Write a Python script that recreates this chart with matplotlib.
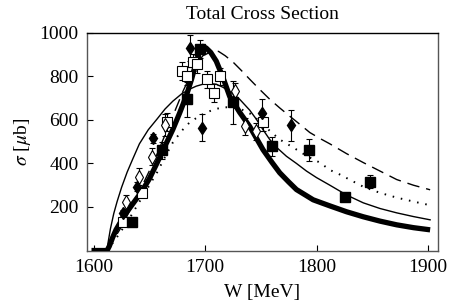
import matplotlib
matplotlib.use("Agg")
import matplotlib.pyplot as plt
import numpy as np

plt.rcParams['font.family'] = ['Liberation Serif', 'DejaVu Serif']
plt.rcParams['mathtext.fontset'] = 'stix'

# model curves (W in MeV, sigma in microbarn)
thick_w = [1598, 1612, 1614, 1617, 1620, 1624, 1628, 1633, 1638, 1643, 1650, 1657,
           1664, 1671, 1677, 1683, 1688, 1692, 1695, 1698, 1701, 1705, 1710, 1716,
           1722, 1731, 1740, 1752, 1760, 1767, 1775, 1782, 1790, 1797, 1805, 1812,
           1827, 1842, 1857, 1872, 1887, 1902]
thick_s = [0, 0, 20, 60, 95, 130, 165, 200, 235, 270, 330, 404,
           480, 556, 630, 709, 790, 866, 915, 938, 930, 910, 870, 795,
           709, 635, 570, 463, 405, 357, 315, 280, 255, 233, 218, 205,
           178, 155, 135, 118, 105, 95]

thin_w = [1612, 1613, 1615, 1618, 1621, 1625, 1630, 1635, 1641, 1649, 1657, 1664,
          1671, 1679, 1686, 1692, 1698, 1704, 1710, 1716, 1722, 1731, 1740, 1746,
          1752, 1758, 1765, 1773, 1782, 1791, 1800, 1812, 1827, 1842, 1857, 1872,
          1887, 1902]
thin_s = [0, 40, 100, 170, 225, 290, 360, 420, 490, 555, 605, 650,
          686, 720, 741, 755, 764, 767, 764, 750, 731, 695, 645, 603,
          555, 510, 470, 433, 400, 365, 335, 300, 255, 219, 193, 173,
          156, 141]

dot_w = [1612, 1620, 1630, 1640, 1650, 1657, 1664, 1671, 1679, 1686, 1694, 1701,
         1708, 1716, 1724, 1732, 1740, 1750, 1758, 1767, 1782, 1792, 1803, 1812,
         1821, 1842, 1857, 1872, 1887, 1902]
dot_s = [0, 55, 130, 215, 300, 360, 430, 496, 550, 588, 615, 634,
         648, 658, 658, 650, 630, 590, 550, 510, 464, 432, 404, 370,
         349, 293, 265, 243, 225, 208]

dash_w = [1612, 1625, 1640, 1655, 1668, 1680, 1690, 1698, 1705, 1712, 1718, 1725,
          1732, 1740, 1749, 1758, 1767, 1776, 1785, 1794, 1803, 1812, 1827, 1842,
          1857, 1872, 1887, 1902]
dash_s = [0, 110, 260, 420, 580, 730, 840, 895, 912, 915, 895, 866,
          830, 787, 740, 695, 655, 617, 580, 542, 515, 490, 445, 404,
          365, 326, 300, 279]

# data points
fsq_w = [1634, 1661, 1684, 1695, 1725, 1760, 1793, 1826, 1848]
fsq_s = [131, 460, 695, 926, 681, 478, 463, 247, 316]
fsq_e = [15, 40, 80, 40, 100, 45, 50, 15, 30]

fdi_w = [1626, 1639, 1653, 1686, 1697, 1751, 1777]
fdi_s = [173, 293, 515, 930, 565, 634, 575]
fdi_e = [15, 20, 20, 60, 60, 60, 70]

odi_w = [1629, 1641, 1652, 1664, 1727, 1736, 1746]
odi_s = [223, 340, 431, 575, 731, 570, 547]
odi_e = [30, 40, 40, 50, 40, 40, 40]

osq_w = [1626, 1643, 1666, 1679, 1684, 1689, 1693, 1702, 1708, 1713, 1752]
osq_s = [131, 265, 590, 824, 801, 865, 857, 787, 723, 800, 589]
osq_e = [20, 20, 40, 40, 40, 40, 40, 40, 40, 40, 40]

fs = 14

fig = plt.figure(figsize=(4.51, 3.07), dpi=100)
ax = fig.add_axes([0.193, 0.184, 0.778, 0.709])

ax.plot(thick_w, thick_s, color='black', lw=3.8, solid_capstyle='butt',
        solid_joinstyle='round', zorder=3)
ax.plot(thin_w, thin_s, color='black', lw=1.0, zorder=3)
ax.plot(dot_w, dot_s, color='black', lw=1.4, linestyle=(0, (0.8, 3.5)), zorder=3)
ax.plot(dash_w, dash_s, color='black', lw=1.0, linestyle=(0, (9, 5)), zorder=3)

eb = dict(ecolor='black', elinewidth=0.8, capsize=2.5, capthick=0.8, linestyle='none', zorder=4)
ax.errorbar(osq_w, osq_s, yerr=osq_e, marker='s', ms=7, mfc='white', mec='black', mew=0.8, **eb)
ax.errorbar(odi_w, odi_s, yerr=odi_e, marker='d', ms=7, mfc='white', mec='black', mew=0.8, **eb)
ax.errorbar(fdi_w, fdi_s, yerr=fdi_e, marker='d', ms=6, mfc='black', mec='black', **eb)
ax.errorbar(fsq_w, fsq_s, yerr=fsq_e, marker='s', ms=7, mfc='black', mec='black', **eb)

ax.set_xlim(1594, 1909)
ax.set_ylim(0, 1000)
ax.set_xticks([1600, 1700, 1800, 1900])
ax.set_yticks([200, 400, 600, 800, 1000])
ax.tick_params(direction='in', length=4, width=0.8, labelsize=fs, pad=6,
               top=False, right=False)

for side in ['left', 'bottom', 'right']:
    ax.spines[side].set_color('#555555')
ax.spines['top'].set_color('black')
for s in ax.spines.values():
    s.set_linewidth(1.0)

ax.set_title('Total Cross Section', fontsize=fs, pad=10)
ax.set_xlabel('W [MeV]', fontsize=fs, labelpad=6)
ax.set_ylabel(r'$\sigma$ [$\mu$b]', fontsize=fs, labelpad=5)

fig.savefig('out.png', dpi=100)
